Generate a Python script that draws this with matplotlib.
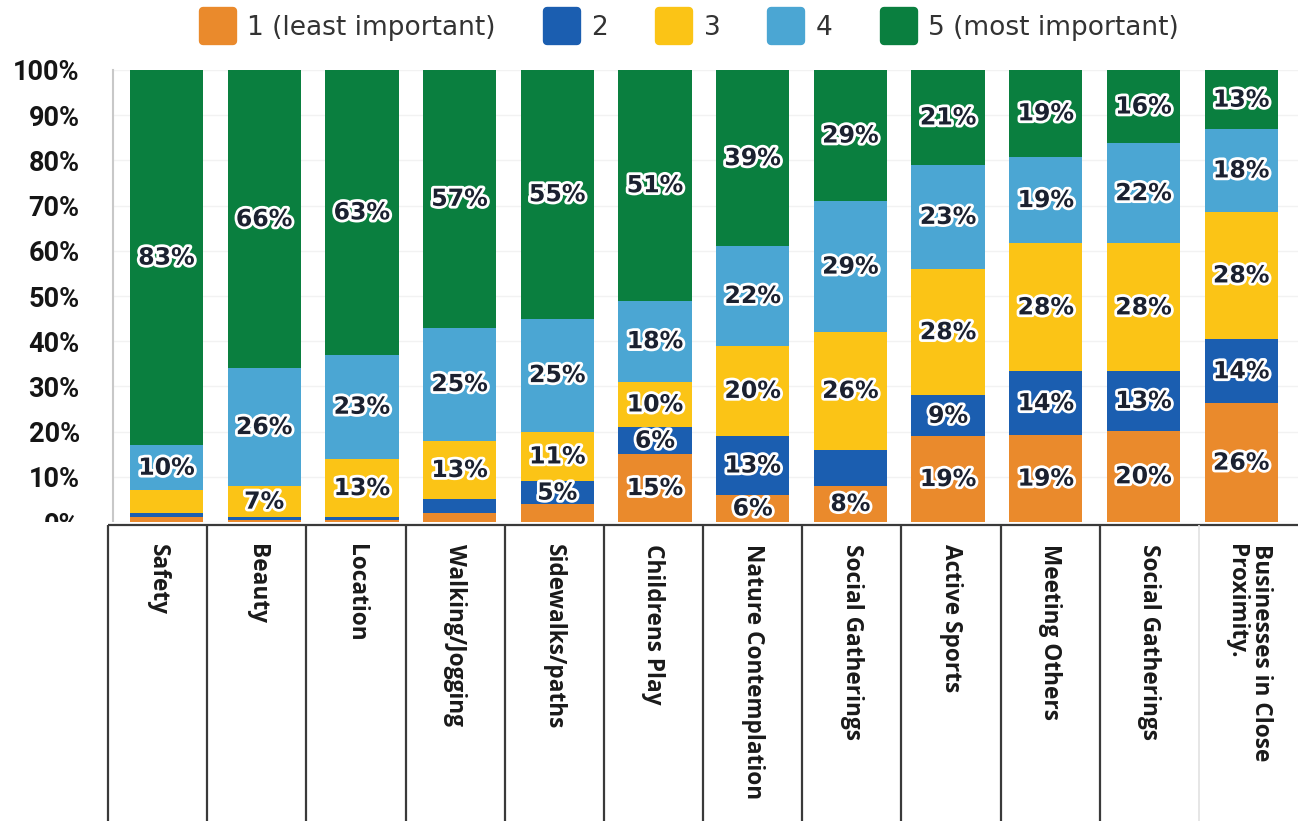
import matplotlib
matplotlib.use("Agg")
import matplotlib.pyplot as plt
import numpy as np
from matplotlib import patheffects as pe
from matplotlib.lines import Line2D
from matplotlib.markers import MarkerStyle

# Importance ratings per amenity (percent of respondents)
categories = ['Safety', 'Beauty', 'Location', 'Walking/Jogging', 'Sidewalks/paths',
              'Childrens Play', 'Nature Contemplation', 'Social Gatherings',
              'Active Sports', 'Meeting Others', 'Social Gatherings',
              'Businesses in Close\nProximity.']
level_names = ['1 (least important)', '2', '3', '4', '5 (most important)']
lvl1 = [1, 0.5, 0.5, 2, 4, 15, 6, 8, 19, 19, 20, 26]
lvl2 = [1, 0.5, 0.5, 3, 5, 6, 13, 8, 9, 14, 13, 14]
lvl3 = [5, 7, 13, 13, 11, 10, 20, 26, 28, 28, 28, 28]
lvl4 = [10, 26, 23, 25, 25, 18, 22, 29, 23, 19, 22, 18]
lvl5 = [83, 66, 63, 57, 55, 51, 39, 29, 21, 19, 16, 13]

# which segments get a printed value
show1 = [0, 0, 0, 0, 0, 1, 1, 1, 1, 1, 1, 1]
show2 = [0, 0, 0, 0, 1, 1, 1, 0, 1, 1, 1, 1]
show3 = [0, 1, 1, 1, 1, 1, 1, 1, 1, 1, 1, 1]
show4 = [1] * 12
show5 = [1] * 12

colors = ['#EA8A2C', '#1B5EB0', '#FBC416', '#4BA6D3', '#0A7F3F']

levels = np.array([lvl1, lvl2, lvl3, lvl4, lvl5], dtype=float)
shows = [show1, show2, show3, show4, show5]
totals = levels.sum(axis=0)
shares = levels / totals * 100

W, H = 1298, 821
fig = plt.figure(figsize=(W / 100, H / 100), dpi=100)

ax = fig.add_axes([113 / W, 1 - 522 / H, (W - 113) / W, (522 - 70) / H])
ax.set_zorder(1)
x = np.arange(len(categories))
bottom = np.zeros(len(categories))
for k in range(5):
    ax.bar(x, shares[k], 0.75, bottom=bottom, color=colors[k], zorder=2)
    for i in range(len(categories)):
        if shows[k][i]:
            ax.text(x[i], bottom[i] + shares[k][i] / 2, f"{levels[k][i]:.0f}%",
                    ha='center', va='center', fontsize=17, fontweight='bold',
                    family='DejaVu Sans', color='#1b2130', zorder=3,
                    path_effects=[pe.withStroke(linewidth=4, foreground='white')])
    bottom += shares[k]

ax.set_xlim((113 - 166.5) / 97.7, (W - 166.5) / 97.7)
ax.set_ylim(0, 100)
ax.set_yticks(np.arange(0, 101, 10))
ax.set_yticklabels([f"{v}%" for v in range(0, 101, 10)])
ax.set_xticks([])
ax.tick_params(axis='y', length=0, pad=24, labelsize=19.5, labelcolor='#151515')
for lab in ax.get_yticklabels():
    lab.set_fontweight('bold')
    lab.set_family('Roboto')
ax.yaxis.grid(True, color='#f2f2f2', linewidth=1, zorder=0)
ax.set_axisbelow(True)
for side in ['top', 'right', 'bottom']:
    ax.spines[side].set_visible(False)
ax.spines['left'].set_color('#c8c8c8')
ax.spines['left'].set_linewidth(1.5)

# category table under the bars (its white face also trims the 0% label)
tab = fig.add_axes([0, 0, 1, (H - 522) / H])
tab.set_zorder(2)
tab.set_facecolor('white')
cell = (W - 108) / 12
tab.set_xlim(-108 / cell, 12)
tab.set_ylim(0, (H - 522) / (H - 525))
tab.set_xticks([])
tab.set_yticks([])
for s in tab.spines.values():
    s.set_visible(False)
tab.hlines(1, 0, 12, color='#3a3a3a', linewidth=1.6)
tab.vlines(np.arange(0, 11), 0, 1, color='#3a3a3a', linewidth=1.6)
tab.vlines([11], 0, 1, color='#e2e2e2', linewidth=1.2)
for i, name in enumerate(categories):
    tab.text(i + 0.5, 0.935, name, rotation=270, ha='center', va='top',
             multialignment='left', fontsize=16.3, fontweight='bold',
             family='Open Sans', color='#1a1a1a', linespacing=1.05)

handles = [Line2D([], [], linestyle='', marker=MarkerStyle('s', joinstyle='round'),
                  markersize=21, markeredgewidth=6, color=c, markeredgecolor=c)
           for c in colors]
fig.legend(handles, level_names, loc='center', bbox_to_anchor=(0.531, 0.966),
           ncol=5, frameon=False, fontsize=19, handlelength=1.4,
           handletextpad=0.42, columnspacing=1.8, labelcolor='#333333')

fig.savefig('out.png', dpi=100)
